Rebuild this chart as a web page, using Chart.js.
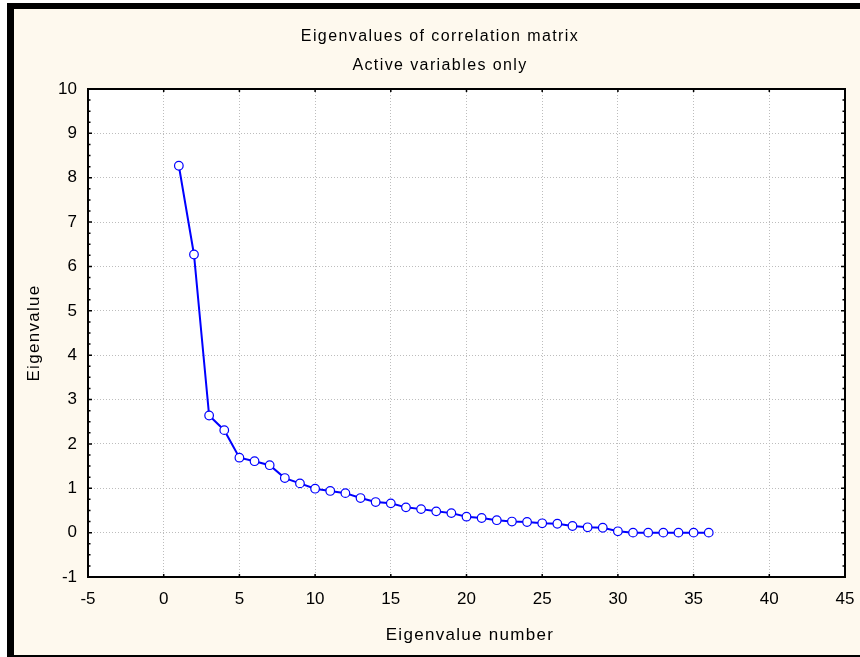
<!DOCTYPE html>
<html>
<head>
<meta charset="utf-8">
<title>Eigenvalues of correlation matrix</title>
<script src="https://cdn.jsdelivr.net/npm/chart.js@4"></script>
<style>
  html, body { margin: 0; padding: 0; background: #ffffff; overflow: hidden; }
  #quadro {
    position: absolute; left: 7px; top: 3px; width: 900px; height: 658px;
    box-sizing: border-box; background: #fef9ee;
    border-left: 7px solid #000; border-top: 6px solid #000; border-bottom: 6px solid #000;
  }
  #graficoAutovalores { position: absolute; left: 0; top: 0; }
</style>
</head>
<body>
<div id="quadro"></div>
<canvas id="graficoAutovalores" width="860" height="657"></canvas>
<script>
const titulo = "Eigenvalues of correlation matrix";
const subtitulo = "Active variables only";
const tituloX = "Eigenvalue number";
const tituloY = "Eigenvalue";

const numeros = [1, 2, 3, 4, 5, 6, 7, 8, 9, 10, 11, 12, 13, 14, 15, 16, 17, 18,
  19, 20, 21, 22, 23, 24, 25, 26, 27, 28, 29, 30, 31, 32, 33, 34, 35, 36];
const autovalores = [8.27, 6.27, 2.64, 2.31, 1.69, 1.61, 1.52, 1.23, 1.11, 0.99,
  0.94, 0.89, 0.78, 0.69, 0.66, 0.57, 0.53, 0.48, 0.44, 0.36, 0.33, 0.28, 0.25,
  0.24, 0.21, 0.20, 0.15, 0.12, 0.11, 0.03, 0.00, 0.00, 0.00, 0.00, 0.00, 0.00];

const ticksX = [-5, 0, 5, 10, 15, 20, 25, 30, 35, 40, 45];
const ticksY = [-1, 0, 1, 2, 3, 4, 5, 6, 7, 8, 9, 10];

const fonte = "'Liberation Sans', Arial, sans-serif";

const moldura = {
  id: "moldura",
  beforeDraw(chart) {
    const { ctx, chartArea: a } = chart;
    ctx.save();
    ctx.fillStyle = "#ffffff";
    ctx.fillRect(a.left, a.top, a.right - a.left, a.bottom - a.top);
    ctx.restore();
  },
  afterDraw(chart) {
    const { ctx, chartArea: a, scales } = chart;
    ctx.save();
    ctx.strokeStyle = "#000000";
    ctx.lineWidth = 2;
    ctx.strokeRect(a.left, a.top, a.right - a.left, a.bottom - a.top);

    // marcas internas dos eixos
    ctx.lineWidth = 1.5;
    ctx.beginPath();
    for (let i = 0; i < ticksY.length; i++) {
      const y = scales.y.getPixelForValue(ticksY[i]);
      ctx.moveTo(a.left, y); ctx.lineTo(a.left + 4, y);
      ctx.moveTo(a.right, y); ctx.lineTo(a.right - 4, y);
      if (i < ticksY.length - 1) {
        for (let k = 1; k < 4; k++) {
          const ym = scales.y.getPixelForValue(ticksY[i] + k * (ticksY[i + 1] - ticksY[i]) / 4);
          ctx.moveTo(a.left, ym); ctx.lineTo(a.left + 2.5, ym);
          ctx.moveTo(a.right, ym); ctx.lineTo(a.right - 2.5, ym);
        }
      }
    }
    ticksX.forEach((v) => {
      const x = scales.x.getPixelForValue(v);
      ctx.moveTo(x, a.bottom); ctx.lineTo(x, a.bottom - 3);
      ctx.moveTo(x, a.top); ctx.lineTo(x, a.top + 3);
    });
    ctx.stroke();

    // titulos
    ctx.fillStyle = "#000000";
    ctx.textAlign = "center";
    ctx.textBaseline = "middle";
    ctx.font = "16px " + fonte;
    ctx.letterSpacing = "1.4px";
    ctx.fillText(titulo, 440, 37);
    ctx.fillText(subtitulo, 440, 66);

    ctx.font = "17px " + fonte;
    ctx.letterSpacing = "1.3px";
    ctx.fillText(tituloX, 470, 635);
    ctx.translate(34, 333);
    ctx.rotate(-Math.PI / 2);
    ctx.fillText(tituloY, 0, 0);
    ctx.restore();
  }
};

function eixo(min, max, lista, ajuste, padding) {
  return {
    type: "linear",
    min,
    max,
    afterBuildTicks: (s) => { s.ticks = lista.map((v) => ({ value: v })); },
    afterFit: ajuste,
    grid: { color: "#bdbdbd", lineWidth: 1, drawTicks: false, borderDash: [1, 2] },
    border: { display: false, dash: [1, 2] },
    ticks: {
      color: "#000000",
      font: { family: fonte, size: 17 },
      padding,
      maxRotation: 0,
      autoSkip: false
    }
  };
}

function criarGrafico() {
  const pontos = numeros.map((n, i) => ({ x: n, y: autovalores[i] }));

  new Chart(document.getElementById("graficoAutovalores"), {
    type: "scatter",
    data: {
      datasets: [{
        label: tituloY,
        data: pontos,
        showLine: true,
        borderColor: "#0000ff",
        borderWidth: 2,
        tension: 0,
        pointRadius: 4.3,
        pointHoverRadius: 4.3,
        pointBackgroundColor: "#ffffff",
        pointBorderColor: "#0000ff",
        pointBorderWidth: 1.2
      }]
    },
    options: {
      responsive: false,
      animation: false,
      devicePixelRatio: 1,
      layout: { padding: { top: 89, right: 15, left: 0, bottom: 0 } },
      plugins: { legend: { display: false }, tooltip: { enabled: false } },
      scales: {
        x: eixo(-5, 45, ticksX, (s) => { s.height = 80; s.paddingRight = 0; s.paddingLeft = 0; }, 12),
        y: eixo(-1, 10, ticksY, (s) => { s.width = 88; }, 11)
      }
    },
    plugins: [moldura]
  });
}

criarGrafico();
</script>
</body>
</html>
